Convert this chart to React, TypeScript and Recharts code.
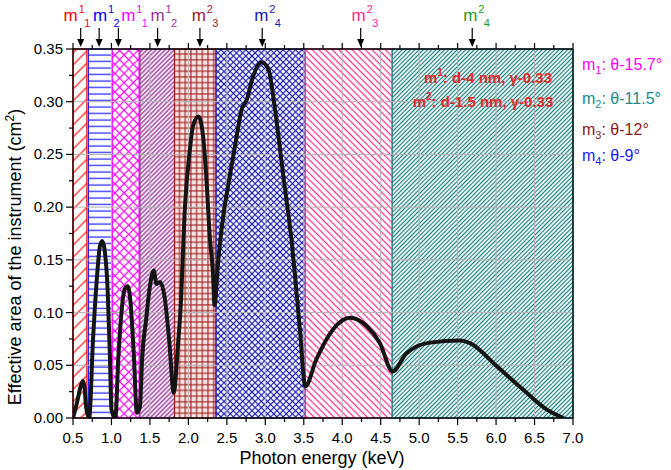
import React from 'react'
import {
  LineChart,
  Line,
  XAxis,
  YAxis,
  ReferenceArea,
  ReferenceLine,
  ReferenceDot,
} from 'recharts'

// effective area curve
const energy = [
  0.5, 0.55, 0.6, 0.63, 0.65, 0.67, 0.71, 0.76, 0.815, 0.85, 0.88, 0.91, 0.95, 0.98, 1.0,
  1.05, 1.09, 1.13, 1.17, 1.21, 1.245, 1.29, 1.33, 1.37, 1.4, 1.45, 1.5, 1.55, 1.585, 1.63,
  1.69, 1.75, 1.81, 1.86, 1.9, 1.955, 2.02, 2.06, 2.13, 2.19, 2.23, 2.28, 2.32, 2.34, 2.385,
  2.45, 2.53, 2.62, 2.69, 2.76, 2.84, 2.95, 3.04, 3.12, 3.23, 3.34, 3.45, 3.52, 3.66, 3.88,
  4.1, 4.32, 4.49, 4.655, 4.83, 5.14, 5.53, 5.66, 6.01, 6.35, 6.66, 6.88,
]
const area = [
  0.0, 0.014, 0.03, 0.035, 0.029, 0.011, 0.0, 0.074, 0.137, 0.163, 0.168, 0.16, 0.122, 0.058, 0.008,
  0.0, 0.058, 0.1, 0.122, 0.125, 0.112, 0.061, 0.005, 0.011, 0.058, 0.093, 0.125, 0.14, 0.127, 0.129,
  0.115, 0.074, 0.024, 0.065, 0.106, 0.2, 0.255, 0.277, 0.286, 0.268, 0.232, 0.17, 0.137, 0.107, 0.147,
  0.19, 0.226, 0.264, 0.292, 0.302, 0.324, 0.3375, 0.331, 0.296, 0.232, 0.169, 0.084, 0.03, 0.055, 0.084,
  0.095, 0.087, 0.071, 0.044, 0.061, 0.0715, 0.0734, 0.071, 0.049, 0.027, 0.008, 0.0,
]

const xMajor = [0.5, 1.0, 1.5, 2.0, 2.5, 3.0, 3.5, 4.0, 4.5, 5.0, 5.5, 6.0, 6.5, 7.0]
const yMajor = [0, 0.05, 0.1, 0.15, 0.2, 0.25, 0.3, 0.35]

// multilayer bands
const bandStart = [0.5, 0.7, 1.01, 1.37, 1.82, 2.36, 3.52, 4.65]
const bandEnd = [0.68, 1.01, 1.36, 1.82, 2.36, 3.52, 4.65, 7.0]

// arrows on the top axis
const markerEnergy = [0.6, 0.84, 1.09, 1.6, 2.15, 2.96, 4.24, 5.69]
const markerSup = ['1', '1', '1', '1', '2', '2', '2', '2']
const markerSub = ['1', '2', '1', '2', '3', '4', '3', '4']

// right side legend
const legendSub = ['1', '2', '3', '4']
const legendAngle = ['15.7', '11.5', '12', '9']

const data = energy.map((e, i) => ({ energy: e, area: area[i] }))
const xTicks = xMajor.flatMap((v, i) => (i < xMajor.length - 1 ? [v, v + 0.25] : [v]))
const yTicks = yMajor.flatMap((v, i) => (i < yMajor.length - 1 ? [v, v + 0.025] : [v]))

const FONT = '"Liberation Sans", Arial, sans-serif'
const bandFill = ['p-red', 'p-blue', 'p-mag', 'p-pur', 'p-grid', 'p-navy', 'p-pink', 'p-teal']
const bandStroke = ['#ff0000', '#2020ff', '#ff00ff', '#993399', '#9b1b1b', '#1818a8', '#ff2a8a', '#1a8585']
const markerColor = ['#ff0000', '#0000ff', '#ff00ff', '#993399', '#9b1b1b', '#1818a8', '#ff2a8a', '#1f9a1f']
const markerDx = [-10, 1, 10, 0, -1, -1, -2, -2]
const legendColor = ['#ff00ff', '#1a8a8a', '#8b1a1a', '#1a1aff']
const legendY = [70, 104, 135, 161]

const isMajor = (v: number, step: number) => Math.abs(v / step - Math.round(v / step)) < 1e-6

function BottomTick(props: any) {
  const { x, y, payload } = props
  const major = isMajor(payload.value, 0.5)
  return (
    <g>
      <line x1={x} x2={x} y1={y} y2={y + (major ? 7 : 4)} stroke='#000' strokeWidth={1.2} />
      {major && (
        <text x={x} y={y + 25} textAnchor='middle' fontSize={15} fontFamily={FONT} fill='#000'>
          {payload.value.toFixed(1)}
        </text>
      )}
    </g>
  )
}

function TopTick(props: any) {
  const { x, y, payload } = props
  const major = isMajor(payload.value, 0.5)
  return <line x1={x} x2={x} y1={y} y2={y - (major ? 6 : 4)} stroke='#000' strokeWidth={1.2} />
}

function LeftTick(props: any) {
  const { x, y, payload } = props
  const major = isMajor(payload.value, 0.05)
  return (
    <g>
      <line x1={x - (major ? 7 : 4)} x2={x} y1={y} y2={y} stroke='#000' strokeWidth={1.2} />
      {major && (
        <text x={x - 10} y={y + 5} textAnchor='end' fontSize={15} fontFamily={FONT} fill='#000'>
          {payload.value.toFixed(2)}
        </text>
      )}
    </g>
  )
}

function Marker({ cx, cy, i }: { cx: number; cy: number; i: number }) {
  const c = markerColor[i]
  const mx = cx + markerDx[i]
  return (
    <g fontFamily={FONT} fill={c}>
      <line x1={cx} x2={cx} y1={cy - 21} y2={cy - 9} stroke='#000' strokeWidth={1.2} />
      <polygon points={`${cx - 3.5},${cy - 10} ${cx + 3.5},${cy - 10} ${cx},${cy - 2}`} fill='#000' />
      <text x={mx} y={cy - 28} textAnchor='middle' fontSize={17}>m</text>
      <text x={mx + 11} y={cy - 36} textAnchor='middle' fontSize={11}>{markerSup[i]}</text>
      <text x={mx + 16.5} y={cy - 22} textAnchor='middle' fontSize={11}>{markerSub[i]}</text>
    </g>
  )
}

function Patterns() {
  return (
    <svg width={0} height={0} style={{ position: 'absolute' }}>
      <defs>
        <pattern id='p-red' width={8.5} height={8.5} patternUnits='userSpaceOnUse' patternTransform='rotate(45)'>
          <rect width={8.5} height={8.5} fill='#fff' />
          <line x1={4} x2={4} y1={0} y2={8.5} stroke='#ff0000' strokeWidth={1.1} />
        </pattern>
        <pattern id='p-blue' width={10} height={6.5} patternUnits='userSpaceOnUse'>
          <rect width={10} height={6.5} fill='#fff' />
          <line x1={0} x2={10} y1={3} y2={3} stroke='#2020ff' strokeWidth={1.2} />
        </pattern>
        <pattern id='p-mag' width={6.5} height={6.5} patternUnits='userSpaceOnUse' patternTransform='rotate(45)'>
          <rect width={6.5} height={6.5} fill='#fff' />
          <line x1={3.2} x2={3.2} y1={0} y2={6.5} stroke='#ff00ff' strokeWidth={1.2} />
          <line x1={0} x2={6.5} y1={3.2} y2={3.2} stroke='#ff00ff' strokeWidth={1.2} />
        </pattern>
        <pattern id='p-pur' width={3.2} height={3.2} patternUnits='userSpaceOnUse' patternTransform='rotate(45)'>
          <rect width={3.2} height={3.2} fill='#f5e6f5' />
          <line x1={1.6} x2={1.6} y1={0} y2={3.2} stroke='#8e2a8e' strokeWidth={1.1} />
        </pattern>
        <pattern id='p-grid' width={5.7} height={5.7} patternUnits='userSpaceOnUse'>
          <rect width={5.7} height={5.7} fill='#f7e4e4' />
          <line x1={2.8} x2={2.8} y1={0} y2={5.7} stroke='#a01c1c' strokeWidth={1.1} />
          <line x1={0} x2={5.7} y1={2.8} y2={2.8} stroke='#a01c1c' strokeWidth={1.1} />
        </pattern>
        <pattern id='p-navy' width={4.4} height={4.4} patternUnits='userSpaceOnUse' patternTransform='rotate(45)'>
          <rect width={4.4} height={4.4} fill='#fff' />
          <line x1={2.2} x2={2.2} y1={0} y2={4.4} stroke='#1c1caa' strokeWidth={1.2} />
          <line x1={0} x2={4.4} y1={2.2} y2={2.2} stroke='#1c1caa' strokeWidth={1.2} />
        </pattern>
        <pattern id='p-pink' width={4.7} height={4.7} patternUnits='userSpaceOnUse' patternTransform='rotate(-45)'>
          <rect width={4.7} height={4.7} fill='#fff' />
          <line x1={2.3} x2={2.3} y1={0} y2={4.7} stroke='#ff2a8a' strokeWidth={1.2} />
        </pattern>
        <pattern id='p-teal' width={3} height={3} patternUnits='userSpaceOnUse' patternTransform='rotate(45)'>
          <rect width={3} height={3} fill='#fff' />
          <line x1={1.5} x2={1.5} y1={0} y2={3} stroke='#167f7f' strokeWidth={1.2} />
        </pattern>
      </defs>
    </svg>
  )
}

function Overlay() {
  return (
    <svg
      width={671}
      height={470}
      style={{ position: 'absolute', left: 0, top: 0, pointerEvents: 'none' }}
      fontFamily={FONT}
    >
      {legendSub.map((s, i) => (
        <text key={s} x={582} y={legendY[i]} fontSize={16} fill={legendColor[i]}>
          m
          <tspan fontSize={11} dy={4}>{s}</tspan>
          <tspan dy={-4}>: θ-{legendAngle[i]}°</tspan>
        </text>
      ))}
      <text x={488} y={83} textAnchor='middle' fontSize={15} fontWeight='bold' fill='#e02a2a'>
        m<tspan fontSize={10} dy={-7}>1</tspan>
        <tspan dy={7}>: d-4 nm, γ-0.33</tspan>
      </text>
      <text x={483} y={107} textAnchor='middle' fontSize={15} fontWeight='bold' fill='#e02a2a'>
        m<tspan fontSize={10} dy={-7}>2</tspan>
        <tspan dy={7}>: d-1.5 nm, γ-0.33</tspan>
      </text>
      <text x={322} y={464} textAnchor='middle' fontSize={18} fill='#000'>
        Photon energy (keV)
      </text>
      <text transform='translate(21,257) rotate(-90)' textAnchor='middle' fontSize={18} fill='#000'>
        Effective area of the instrument (cm<tspan fontSize={12} dy={-7}>2</tspan>
        <tspan dy={7}>)</tspan>
      </text>
    </svg>
  )
}

export default function App() {
  return (
    <div style={{ position: 'absolute', left: 0, top: 0, width: 671, height: 470, background: '#fff' }}>
      <Patterns />
      <LineChart width={671} height={470} data={data} margin={{ top: 48, right: 97, bottom: 22, left: 13 }}>
        <XAxis
          xAxisId='b'
          dataKey='energy'
          type='number'
          domain={[0.5, 7]}
          ticks={xTicks}
          interval={0}
          tick={BottomTick}
          tickLine={false}
          tickSize={0}
          tickMargin={0}
          axisLine={{ stroke: '#000', strokeWidth: 1.3 }}
          height={30}
          allowDataOverflow
        />
        <XAxis
          xAxisId='t'
          orientation='top'
          dataKey='energy'
          type='number'
          domain={[0.5, 7]}
          ticks={xTicks}
          interval={0}
          tick={TopTick}
          tickLine={false}
          tickSize={0}
          tickMargin={0}
          axisLine={{ stroke: '#000', strokeWidth: 1.3 }}
          height={1}
          allowDataOverflow
        />
        <YAxis
          yAxisId='l'
          type='number'
          domain={[0, 0.35]}
          ticks={yTicks}
          interval={0}
          tick={LeftTick}
          tickLine={false}
          tickSize={0}
          tickMargin={0}
          axisLine={{ stroke: '#000', strokeWidth: 1.3 }}
          width={60}
          allowDataOverflow
        />
        <YAxis
          yAxisId='r'
          orientation='right'
          type='number'
          domain={[0, 0.35]}
          tick={false}
          tickLine={false}
          axisLine={{ stroke: '#000', strokeWidth: 1.3 }}
          width={1}
        />
        {bandStart.map((s, i) => (
          <ReferenceArea
            key={'band' + i}
            xAxisId='b'
            yAxisId='l'
            x1={s}
            x2={bandEnd[i]}
            y1={0}
            y2={0.35}
            fill={`url(#${bandFill[i]})`}
            fillOpacity={1}
            stroke={bandStroke[i]}
            strokeWidth={1.2}
            ifOverflow='visible'
          />
        ))}
        {xMajor.slice(1, -1).map((v) => (
          <ReferenceLine key={'gx' + v} xAxisId='b' yAxisId='l' x={v} stroke='#b4b4b4' strokeWidth={1} />
        ))}
        {yMajor.slice(1, -1).map((v) => (
          <ReferenceLine key={'gy' + v} xAxisId='b' yAxisId='l' y={v} stroke='#b4b4b4' strokeWidth={1} />
        ))}
        <Line
          xAxisId='b'
          yAxisId='l'
          dataKey='area'
          type='monotone'
          stroke='#141414'
          strokeWidth={4}
          dot={false}
          isAnimationActive={false}
        />
        {markerEnergy.map((e, i) => (
          <ReferenceDot
            key={'mk' + i}
            xAxisId='b'
            yAxisId='l'
            x={e}
            y={0.35}
            ifOverflow='visible'
            shape={(p: any) => <Marker cx={p.cx} cy={p.cy} i={i} />}
          />
        ))}
      </LineChart>
      <Overlay />
    </div>
  )
}
